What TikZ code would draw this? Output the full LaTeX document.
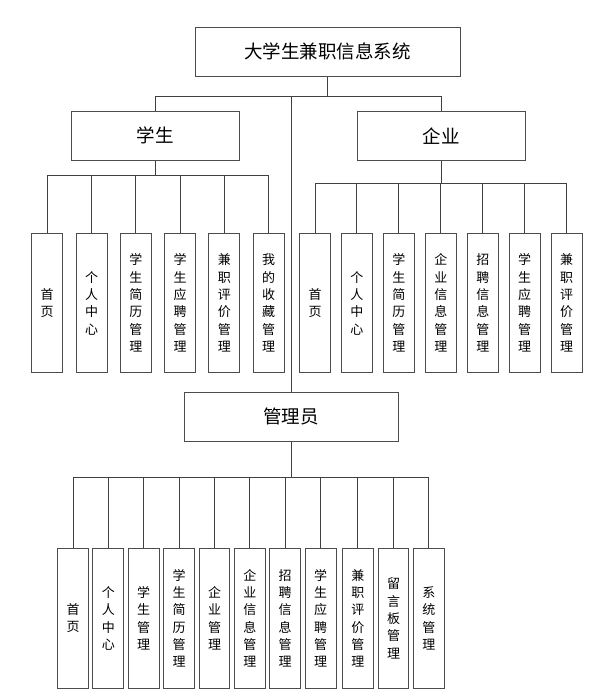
\documentclass[tikz,border=0pt]{standalone}
\usepackage{fontspec}
\newfontfamily\cjk{Noto Sans CJK SC}
\begin{document}
\begin{tikzpicture}[x=1pt,y=-1pt,
  headbox/.style={draw=black!70, line width=1pt, minimum width=#1, minimum height=48.7pt, inner sep=0pt, font=\cjk\fontsize{18.5}{22}\selectfont},
  leafbox/.style={draw=black!70, line width=1pt, minimum width=31pt, minimum height=139.5pt, inner sep=0pt, align=center, font=\cjk\fontsize{13}{17.3}\selectfont},
  conn/.style={draw=black!75, line width=1pt}]
\useasboundingbox (0,0) rectangle (602,693);
\fill[white] (0,0) rectangle (602,693);
% heads
\node[headbox=265pt] (top) at (327.5,51.7) {大学生兼职信息系统};
\node[headbox=168pt] (stu) at (155,135.8) {学生};
\node[headbox=168pt] (ent) at (441,135.8) {企业};
\node[headbox=213.7pt] (adm) at (291.2,416.7) {管理员};
% top connectors
\draw[conn] (top.south) -- ++(0,20) coordinate (b1);
\draw[conn] (b1) -| (stu.north);
\draw[conn] (b1) -| (ent.north);
\draw[conn] (b1 -| adm.north) -- (adm.north);
% student leaves
\draw[conn] (stu.south) -- ++(0,15) coordinate (b2);
\foreach \x/\t [count=\i] in {47.2/首\\页, 91.5/个\\人\\中\\心, 135.8/学\\生\\简\\历\\管\\理, 180/学\\生\\应\\聘\\管\\理, 224.3/兼\\职\\评\\价\\管\\理, 268.5/我\\的\\收\\藏\\管\\理}{
  \node[leafbox] (s\i) at (\x,303) {\t};
  \draw[conn] (b2) -| (s\i.north);
}
% enterprise leaves
\draw[conn] (ent.south) -- ++(0,22.4) coordinate (b3);
\foreach \x/\t [count=\i] in {315/首\\页, 356.8/个\\人\\中\\心, 398.8/学\\生\\简\\历\\管\\理, 440.8/企\\业\\信\\息\\管\\理, 482.8/招\\聘\\信\\息\\管\\理, 524.5/学\\生\\应\\聘\\管\\理, 566.5/兼\\职\\评\\价\\管\\理}{
  \node[leafbox] (e\i) at (\x,303) {\t};
  \draw[conn] (b3) -| (e\i.north);
}
% admin leaves
\draw[conn] (adm.south) -- ++(0,35.7) coordinate (b4);
\foreach \x/\t [count=\i] in {73/首\\页, 108.3/个\\人\\中\\心, 143.7/学\\生\\管\\理, 179/学\\生\\简\\历\\管\\理, 214.5/企\\业\\管\\理, 249.8/企\\业\\信\\息\\管\\理, 285.2/招\\聘\\信\\息\\管\\理, 320.7/学\\生\\应\\聘\\管\\理, 357.8/兼\\职\\评\\价\\管\\理, 393.5/留\\言\\板\\管\\理, 428.8/系\\统\\管\\理}{
  \node[leafbox, minimum width=30.7pt, minimum height=140pt] (a\i) at (\x,618.3) {\t};
  \draw[conn] (b4) -| (a\i.north);
}
\end{tikzpicture}
\end{document}
